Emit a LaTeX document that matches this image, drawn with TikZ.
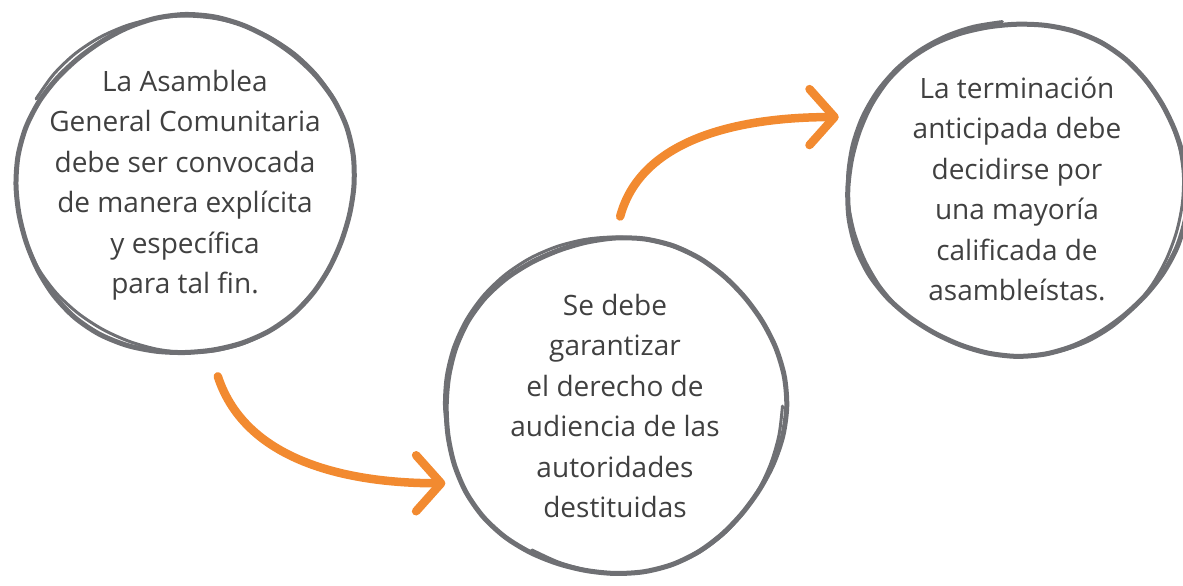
\documentclass[tikz,border=0pt]{standalone}
\usepackage{fontspec}
\setmainfont{Open Sans}
\usetikzlibrary{positioning,arrows.meta}
\definecolor{ringgray}{HTML}{6F7074}
\definecolor{txtgray}{HTML}{404040}
\definecolor{floworange}{HTML}{F28A30}
\tikzset{
  idea/.style={circle,minimum size=340pt,inner sep=0pt,align=center,
    text=txtgray,font=\fontsize{28}{40.5}\selectfont},
  ring/.style={draw=ringgray,line width=5pt,line join=round,line cap=round},
  thinring/.style={ring,line width=3pt},
  flow/.style={draw=floworange,line width=8.5pt,line cap=round,
    -{Straight Barb[length=25pt,width=56pt,round]}},
}
\begin{document}
\begin{tikzpicture}[x=1pt,y=1pt]
  \useasboundingbox (0,0) rectangle (1183,-586);

  \node [idea] (asamblea) at (185,-185) {La Asamblea\\General Comunitaria\\debe ser convocada\\de manera explícita\\y específica\\para tal fin.};
  \node [idea] (audiencia) at (615,-406) {Se debe\\garantizar\\el derecho de\\audiencia de las\\autoridades\\destituidas};
  \node [idea] (mayoria) at (1017,-189) {La terminación\\anticipada debe\\decidirse por\\una mayoría\\calificada de\\asambleístas.};

  % sketchy rings
  \foreach \n/\r/\p in {asamblea/169/0,audiencia/169/40,mayoria/168/75}{
    \draw[ring,shift={(\n.center)}] plot[smooth cycle,domain=0:350,samples=36]
      (\x:{\r+2*sin(2*\x+\p)+1.5*sin(5*\x+2*\p)});
    \draw[thinring,shift={(\n.center)}] plot[smooth,domain=\p+20:\p+150,samples=14]
      (\x:{\r+1.5+1.5*sin(3*\x)});
    \draw[thinring,shift={(\n.center)}] plot[smooth,domain=\p+200:\p+320,samples=13]
      (\x:{\r-1.5+1.5*sin(4*\x)});
  }

  \draw[flow,shorten <=16pt,shorten >=18pt] (asamblea.-81) to[out=-72,in=180] (audiencia.207);
  \draw[flow,shorten <=20pt,shorten >=24pt] (audiencia.90) to[out=75,in=180] (mayoria.155);
\end{tikzpicture}
\end{document}
